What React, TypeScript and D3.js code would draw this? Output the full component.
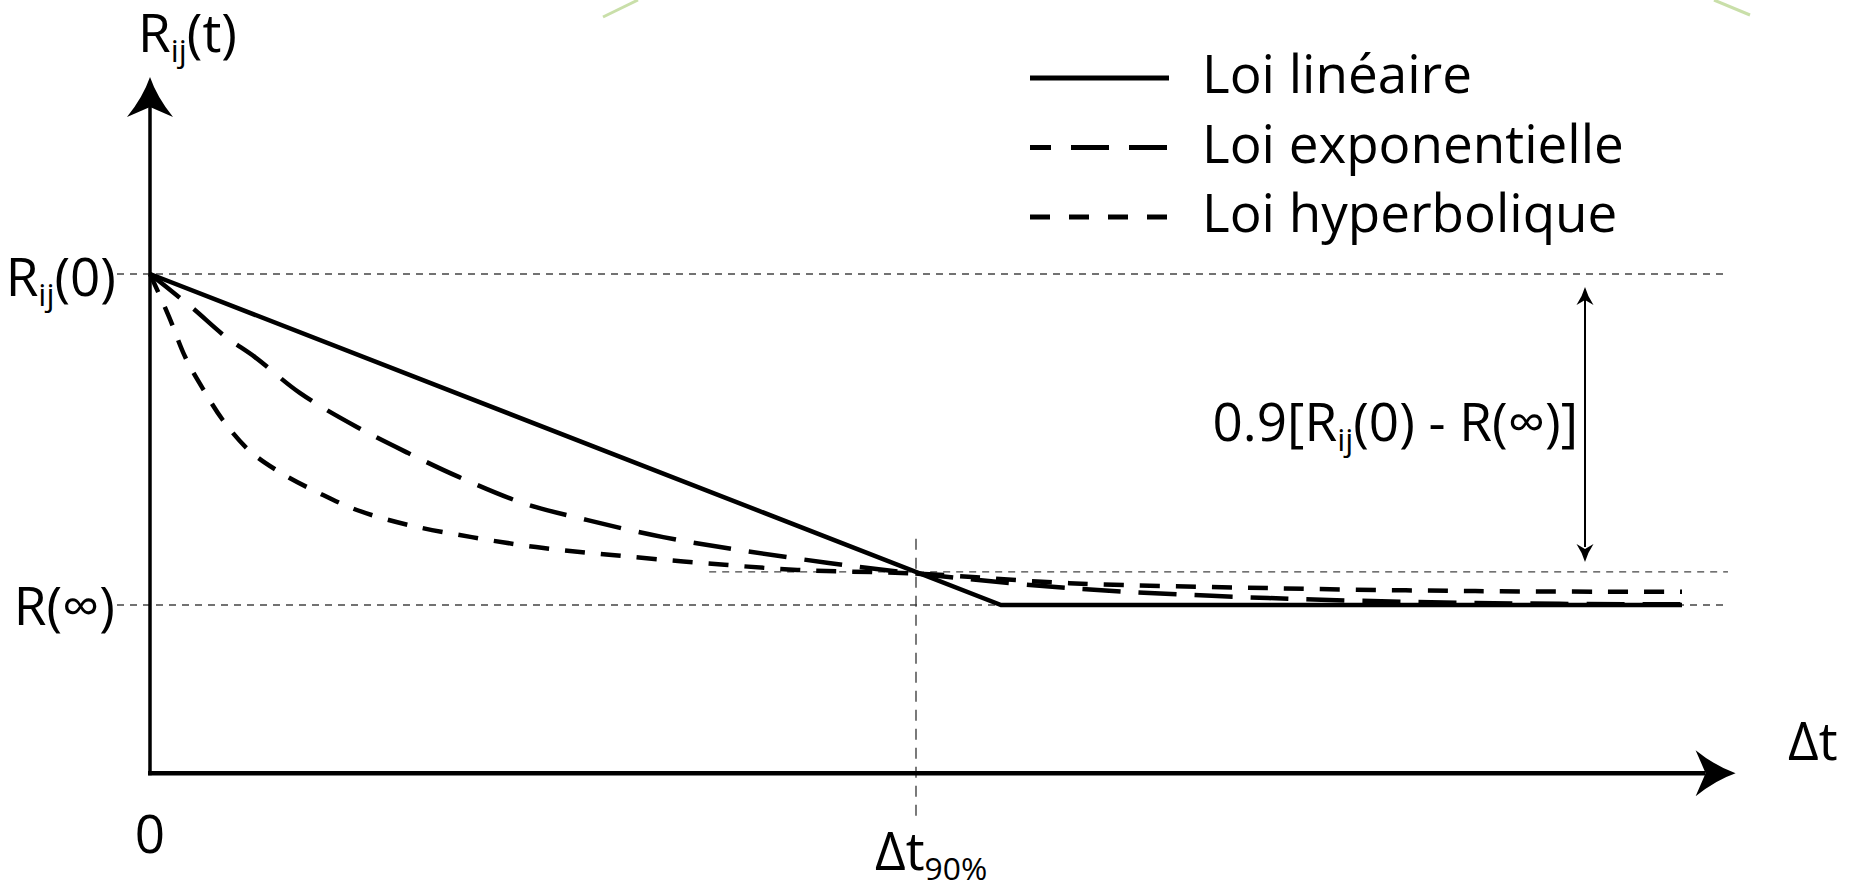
import React from 'react';
import * as d3 from 'd3';

// time is in units of Δt90%, resistance is normalised: R(∞) = 0, Rij(0) = 1
const linearT = [0, 1.111, 2.0];
const linearR = [1, 0, 0];

const expoT = [0, 0.054, 0.099, 0.137, 0.196, 0.27, 0.337, 0.403, 0.487, 0.57, 0.67, 0.77, 0.886, 1.0, 1.2, 1.46, 1.73, 2.0];
const expoR = [1, 0.9, 0.81, 0.749, 0.64, 0.538, 0.459, 0.387, 0.308, 0.257, 0.205, 0.166, 0.127, 0.095, 0.051, 0.021, 0.006, 0.002];

const hyperT = [0, 0.025, 0.046, 0.07, 0.095, 0.129, 0.171, 0.221, 0.27, 0.337, 0.42, 0.504, 0.603, 0.721, 0.845, 1.0, 1.2, 1.46, 1.73, 2.0];
const hyperR = [1, 0.87, 0.749, 0.65, 0.559, 0.468, 0.399, 0.338, 0.287, 0.242, 0.205, 0.175, 0.151, 0.127, 0.106, 0.095, 0.066, 0.051, 0.042, 0.04];

const legendLabels = ['Loi linéaire', 'Loi exponentielle', 'Loi hyperbolique'];
const legendDashes = ['none', '38 20', '20 19'];
const legendOffsets = [0, 17, 0];

const t90 = 1;
const level90 = 0.1;

const W = 1854;
const H = 882;
const FONT = '"Open Sans", sans-serif';
const FS = 53;

const x = d3.scaleLinear().domain([0, 1]).range([150, 916]);
const y = d3.scaleLinear().domain([0, 1]).range([605, 274]);

const toPts = (ts: number[], rs: number[]) => ts.map((t, i) => [t, rs[i]] as [number, number]);

const curve = d3.line<[number, number]>()
  .x(d => x(d[0]))
  .y(d => y(d[1]))
  .curve(d3.curveCatmullRom.alpha(0.5));

const straight = d3.line<[number, number]>()
  .x(d => x(d[0]))
  .y(d => y(d[1]));

// notched arrow head, tip at origin pointing along +x
const arrowHead = (len: number, half: number, notch: number) =>
  `M0,0 Q${-len * 0.5},${half * 0.3} ${-len},${half} L${-len + notch},0 L${-len},${-half} Q${-len * 0.5},${-half * 0.3} 0,0 Z`;

const Sub = ({ children }: { children: React.ReactNode }) => (
  <tspan fontSize={FS * 0.6} dy={10}>{children}</tspan>
);

const App = () => {
  const xAxisY = y(-0.508);
  const xTip = x(2.07);
  const yTip = y(1.595);
  const guideStart = 117;
  const guideEnd = x(2.06);

  return (
    <svg width={W} height={H} style={{ position: 'absolute', left: 0, top: 0, background: '#fff' }}
      fontFamily={FONT}>
      {/* decorative page border fragments */}
      <line x1={603} y1={17} x2={638} y2={0} stroke="#c9dfa9" strokeWidth={3} />
      <line x1={1714} y1={0} x2={1750} y2={15} stroke="#c9dfa9" strokeWidth={3} />

      {/* guide lines */}
      <g stroke="#444" strokeWidth={1.3} strokeDasharray="7 6">
        <line x1={guideStart} x2={guideEnd} y1={y(1)} y2={y(1)} />
        <line x1={guideStart} x2={guideEnd} y1={y(0)} y2={y(0)} />
        <line x1={x(0.73)} x2={guideEnd} y1={y(level90)} y2={y(level90)} />
      </g>
      <line x1={x(t90)} x2={x(t90)} y1={y(0.2)} y2={y(-0.64)} stroke="#333" strokeWidth={1.3} strokeDasharray="11 8" />

      {/* axes */}
      <line x1={x(0)} x2={x(0)} y1={xAxisY + 2} y2={yTip + 30} stroke="#000" strokeWidth={3.5} />
      <path d={arrowHead(40, 23, 10)} transform={`translate(${x(0)},${yTip}) rotate(-90)`} fill="#000" />
      <line x1={x(0) - 2} x2={xTip - 30} y1={xAxisY} y2={xAxisY} stroke="#000" strokeWidth={4.5} />
      <path d={arrowHead(40, 23, 10)} transform={`translate(${xTip},${xAxisY})`} fill="#000" />

      {/* series */}
      <path d={straight(toPts(linearT, linearR)) || ''} fill="none" stroke="#000" strokeWidth={4.5} />
      <path d={curve(toPts(expoT, expoR)) || ''} fill="none" stroke="#000" strokeWidth={4.5} strokeDasharray="38 18" />
      <path d={curve(toPts(hyperT, hyperR)) || ''} fill="none" stroke="#000" strokeWidth={4.5} strokeDasharray="20 16" />

      {/* 90% span arrow */}
      <line x1={1585} x2={1585} y1={y(1) + 25} y2={y(level90) - 25} stroke="#000" strokeWidth={2} />
      <path d={arrowHead(18, 8.5, 5)} transform={`translate(1585,${y(1) + 13}) rotate(-90)`} fill="#000" />
      <path d={arrowHead(18, 8.5, 5)} transform={`translate(1585,${y(level90) - 10}) rotate(90)`} fill="#000" />
      <text x={1578} y={441} fontSize={FS} textAnchor="end">
        0.9[R<Sub>ij</Sub><tspan dy={-10}>(0) - R(∞)]</tspan>
      </text>

      {/* axis labels */}
      <text x={138} y={52} fontSize={FS}>R<Sub>ij</Sub><tspan dy={-10}>(t)</tspan></text>
      <text x={1788} y={760} fontSize={FS}>Δt</text>
      <text x={116} y={296} fontSize={FS} textAnchor="end">R<Sub>ij</Sub><tspan dy={-10}>(0)</tspan></text>
      <text x={115} y={625} fontSize={FS} textAnchor="end">R(∞)</text>
      <text x={x(0)} y={853} fontSize={FS} textAnchor="middle">0</text>
      <text x={875} y={870} fontSize={FS}>Δt<tspan fontSize={FS * 0.6} dy={10}>90%</tspan></text>

      {/* legend */}
      {legendLabels.map((label, i) => (
        <g key={label} transform={`translate(0,${78 + i * 69.5})`}>
          <line x1={1030} x2={1169} y1={0} y2={0} stroke="#000" strokeWidth={5}
            strokeDasharray={legendDashes[i]} strokeDashoffset={legendOffsets[i]} />
          <text x={1202} y={15} fontSize={FS}>{label}</text>
        </g>
      ))}
    </svg>
  );
};

export default App;
